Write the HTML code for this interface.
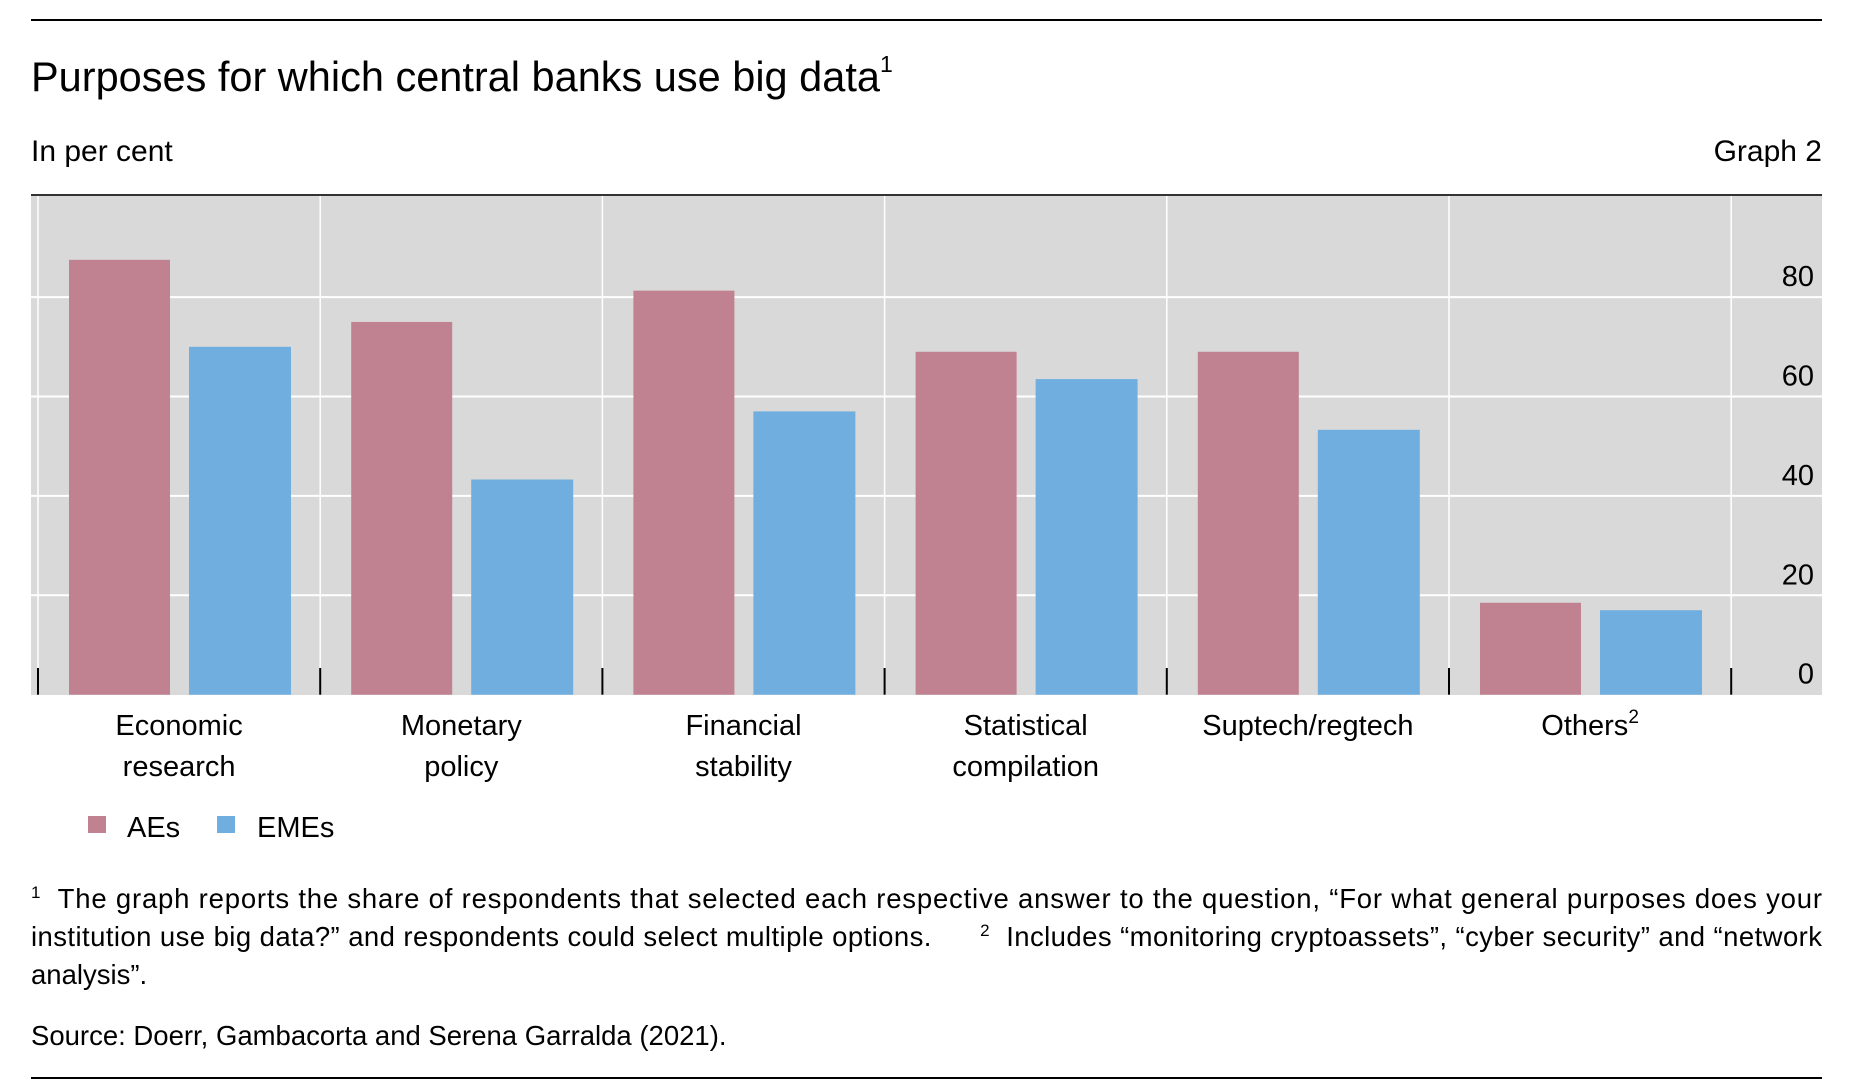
<!DOCTYPE html>
<html><head><meta charset="utf-8">
<style>
html,body{margin:0;padding:0;background:#fff;}
svg{display:block;font-family:"Liberation Sans",sans-serif;}
</style></head>
<body>
<svg id="chart" width="1874" height="1086" viewBox="0 0 1874 1086">
<line x1="31" y1="20" x2="1822" y2="20" stroke="#000" stroke-width="2"/>
<text x="31" y="91" font-size="41.5">Purposes for which central banks use big data<tspan font-size="23" dy="-19">1</tspan></text>
<text x="31" y="161" font-size="30">In per cent</text>
<text x="1822" y="161" font-size="30" text-anchor="end">Graph 2</text>
<line x1="31" y1="195" x2="1822" y2="195" stroke="#333" stroke-width="2"/>
<rect x="31" y="196" width="1791" height="499" fill="#d9d9d9"/>
<g id="grid"></g>
<g id="bars"></g>
<g id="ticks"></g>
<g id="labels"></g>
<rect x="88" y="816" width="18" height="17" fill="#c08290"/>
<text x="127" y="837" font-size="29">AEs</text>
<rect x="217" y="816" width="18" height="17" fill="#70aedf"/>
<text x="257" y="837" font-size="29">EMEs</text>
<text x="31" y="908" font-size="27.5" textLength="1791" lengthAdjust="spacing"><tspan font-size="17" dy="-10">1</tspan><tspan dy="10">&#160; The graph reports the share of respondents that selected each respective answer to the question, “For what general purposes does your</tspan></text>
<text x="31" y="946" font-size="27.5" textLength="1791" lengthAdjust="spacing">institution use big data?” and respondents could select multiple options.&#160;&#160;&#160;&#160;&#160;&#160;<tspan font-size="17" dy="-10">2</tspan><tspan dy="10">&#160; Includes “monitoring cryptoassets”, “cyber security” and “network</tspan></text>
<text x="31" y="984" font-size="27.5">analysis”.</text>
<text x="31" y="1045" font-size="27.5">Source: Doerr, Gambacorta and Serena Garralda (2021).</text>
<line x1="31" y1="1078" x2="1822" y2="1078" stroke="#000" stroke-width="2"/>
</svg>
<script>
const categories = [["Economic","research"],["Monetary","policy"],["Financial","stability"],["Statistical","compilation"],["Suptech/regtech"],["Others"]];
const aes = [87.5, 75, 81.3, 69, 69, 18.5];
const emes = [70, 43.3, 57, 63.5, 53.3, 17];
const yTicks = [0, 20, 40, 60, 80];

const NS = "http://www.w3.org/2000/svg";
const x0 = 38, catW = 282.2, plotTop = 196, plotRight = 1822;
const y0 = 694.7, pxPerUnit = 4.97;
const yScale = v => y0 - v * pxPerUnit;
const xCat = i => x0 + i * catW;
function mk(tag, attrs, parent){
  const e = document.createElementNS(NS, tag);
  for (const k in attrs) e.setAttribute(k, attrs[k]);
  document.getElementById(parent).appendChild(e);
  return e;
}
yTicks.forEach(t => {
  if (t > 0) {
    const g = mk("line", {x1:31, x2:plotRight, y1:yScale(t), y2:yScale(t), stroke:"#fff", "stroke-width":2}, "grid");
    
    
  }
  const l = mk("text", {x:1814, y:yScale(t) - 11, "font-size":29, "text-anchor":"end"}, "labels");
  l.textContent = t;
  
  
});
for (let i = 0; i <= categories.length; i++) {
  const v = mk("line", {x1:xCat(i), x2:xCat(i), y1:plotTop, y2:y0, stroke:"#fff", "stroke-width":1.5}, "grid");
  
  
  const t = mk("line", {x1:xCat(i), x2:xCat(i), y1:668, y2:y0, stroke:"#000", "stroke-width":2}, "ticks");
  
  
}
categories.forEach((c, i) => {
  const a = mk("rect", {x:xCat(i) + 31, y:yScale(aes[i]), width:101, height:y0 - yScale(aes[i]), fill:"#c08290"}, "bars");
  
  
  const e = mk("rect", {x:xCat(i) + 151, y:yScale(emes[i]), width:102, height:y0 - yScale(emes[i]), fill:"#70aedf"}, "bars");
  
  
  const cx = xCat(i) + catW / 2;
  c.forEach((line, j) => {
    const t = mk("text", {x:cx, y:735 + j * 41, "font-size":29, "text-anchor":"middle"}, "labels");
    t.textContent = line;
    if (i === categories.length - 1) {
      const s = document.createElementNS(NS, "tspan");
      s.setAttribute("font-size", "19"); s.setAttribute("dy", "-12");
      s.textContent = "2";
      t.appendChild(s);
    }
    
    
  });
});
</script>
</body></html>
